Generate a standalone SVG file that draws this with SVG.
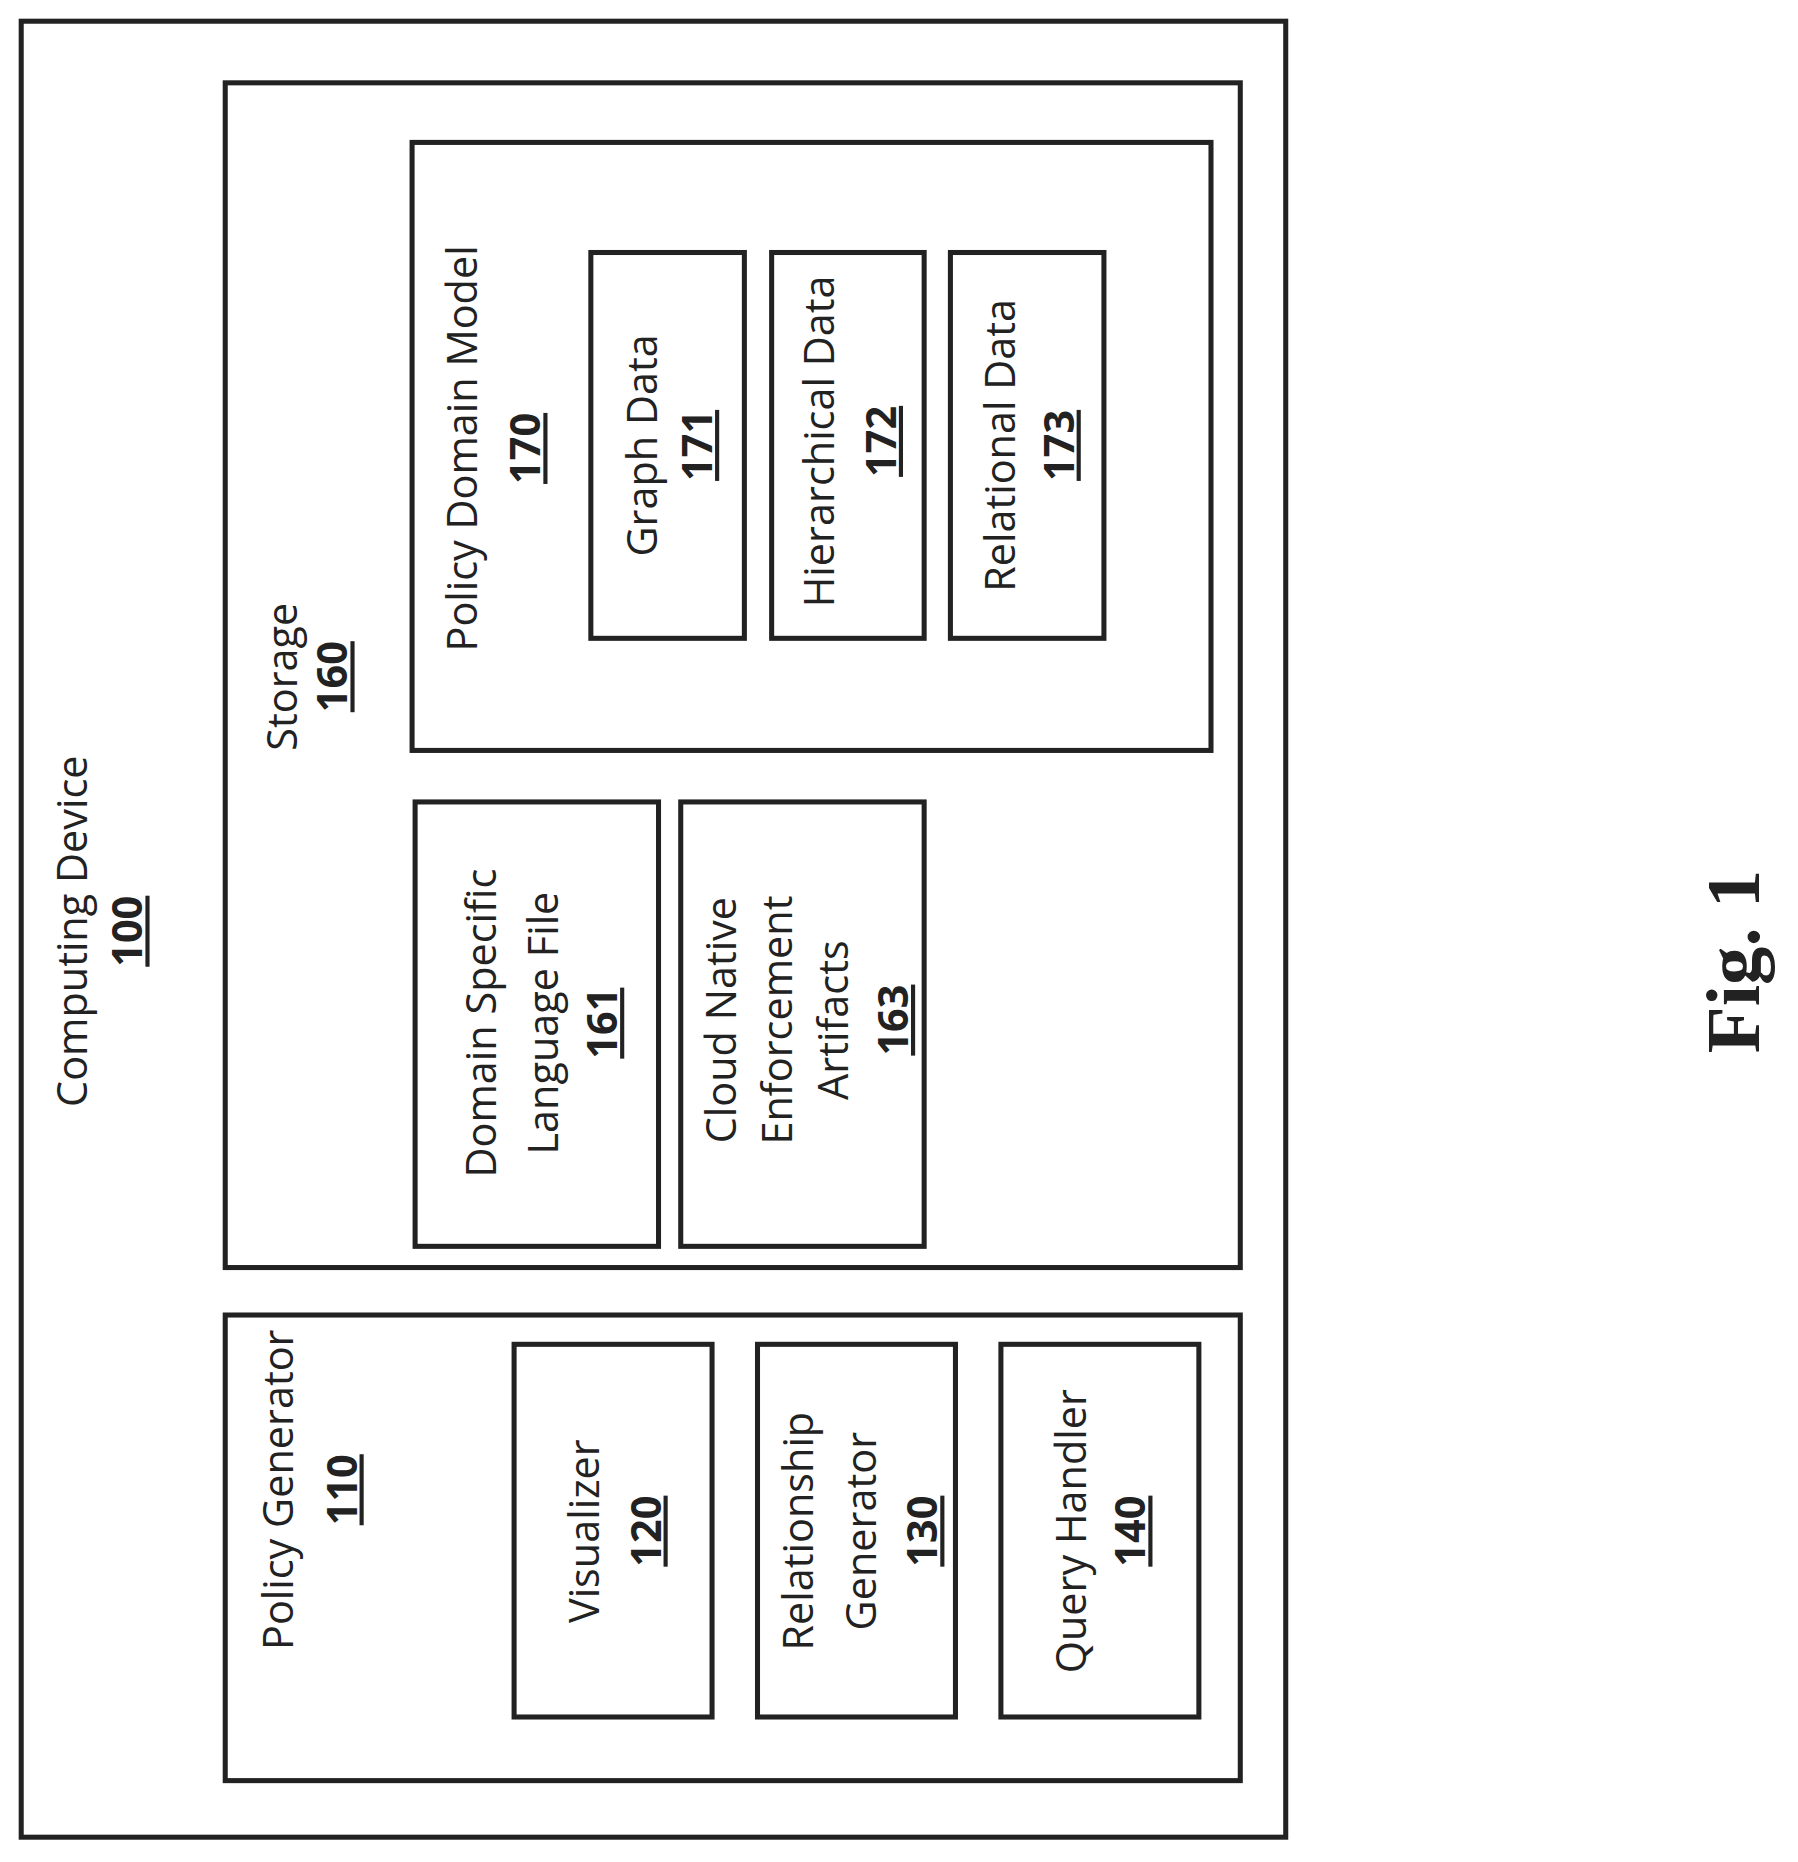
<svg xmlns="http://www.w3.org/2000/svg" width="1798" height="1862" viewBox="0 0 1798 1862">
<style>
rect{fill:none;stroke:#222;stroke-width:5}
text{font-family:"Open Sans","Liberation Sans",sans-serif;font-size:41px;fill:#222;text-anchor:middle}
.n{text-decoration:underline;font-weight:bold}
.fig{font-family:"Liberation Serif",serif;font-weight:bold;font-size:76px}
</style>
<rect width="1798" height="1862" style="fill:#fff;stroke:none"/>
<g transform="scale(1.01)">
<g id="computing-device"><rect x="21" y="21" width="1252" height="1798"/>
<text transform="translate(86,922) rotate(-90)">Computing Device</text>
<text class="n" transform="translate(141,922) rotate(-90)">100</text></g>
<g id="storage"><rect x="223" y="82" width="1005" height="1173"/>
<text transform="translate(294,670) rotate(-90)">Storage</text>
<text class="n" transform="translate(344,670) rotate(-90)">160</text></g>
<g id="policy-domain-model"><rect x="408" y="141" width="791" height="602"/>
<text transform="translate(472,444) rotate(-90)">Policy Domain Model</text>
<text class="n" transform="translate(535,444) rotate(-90)">170</text></g>
<g id="graph-data"><rect x="585" y="250" width="152" height="382"/>
<text transform="translate(650,441) rotate(-90)">Graph Data</text>
<text class="n" transform="translate(705,441) rotate(-90)">171</text></g>
<g id="hierarchical-data"><rect x="764" y="250" width="151" height="382"/>
<text transform="translate(826,437) rotate(-90)">Hierarchical Data</text>
<text class="n" transform="translate(887,437) rotate(-90)">172</text></g>
<g id="relational-data"><rect x="941" y="250" width="152" height="382"/>
<text transform="translate(1005,441) rotate(-90)">Relational Data</text>
<text class="n" transform="translate(1063,441) rotate(-90)">173</text></g>
<g id="dsl-file"><rect x="411" y="794" width="241" height="440"/>
<text transform="translate(491,1013) rotate(-90)">Domain Specific</text>
<text transform="translate(552,1013) rotate(-90)">Language File</text>
<text class="n" transform="translate(611,1013) rotate(-90)">161</text></g>
<g id="cloud-native"><rect x="674" y="794" width="241" height="440"/>
<text transform="translate(729,1010) rotate(-90)">Cloud Native</text>
<text transform="translate(784,1010) rotate(-90)">Enforcement</text>
<text transform="translate(840,1010) rotate(-90)">Artifacts</text>
<text class="n" transform="translate(899,1010) rotate(-90)">163</text></g>
<g id="policy-generator"><rect x="223" y="1302" width="1005" height="461"/>
<text transform="translate(290,1475) rotate(-90)">Policy Generator</text>
<text class="n" transform="translate(353,1475) rotate(-90)">110</text></g>
<g id="visualizer"><rect x="509" y="1331" width="196" height="369"/>
<text transform="translate(593,1516) rotate(-90)">Visualizer</text>
<text class="n" transform="translate(654,1516) rotate(-90)">120</text></g>
<g id="relationship-generator"><rect x="750" y="1331" width="196" height="369"/>
<text transform="translate(805,1516) rotate(-90)">Relationship</text>
<text transform="translate(867,1516) rotate(-90)">Generator</text>
<text class="n" transform="translate(928,1516) rotate(-90)">130</text></g>
<g id="query-handler"><rect x="991" y="1331" width="196" height="369"/>
<text transform="translate(1075,1516) rotate(-90)">Query Handler</text>
<text class="n" transform="translate(1134,1516) rotate(-90)">140</text></g>
<g id="connectors"/>
<text class="fig" transform="translate(1742,952) rotate(-90)">Fig. 1</text>
</g>
</svg>
